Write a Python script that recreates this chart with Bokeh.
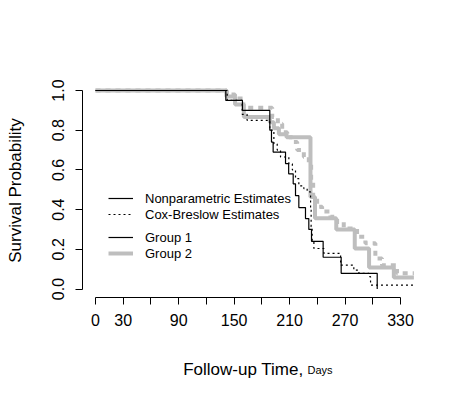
import math
from bokeh.plotting import figure
from bokeh.models import (Range1d, FixedTicker, PrintfTickFormatter, Label,
                          Legend, LegendItem)
from bokeh.embed import file_html
from bokeh.resources import INLINE

# ---- data ----
g1_np_time = [0, 141, 159, 188.6, 190.4, 192.2, 205.6, 209, 213.9, 216.4, 220,
              227.2, 230.8, 233.7, 246.3, 265.8, 304.8]
g1_np_surv = [1.0, 0.95, 0.90, 0.80, 0.74, 0.69, 0.632, 0.58, 0.53, 0.47, 0.41,
              0.355, 0.30, 0.24, 0.16, 0.079, 0.0]

g1_cox_time = [0, 142.5, 158.7, 164, 188.6, 193, 196.6, 200.2, 209.2, 213, 216.4,
               220, 225.4, 229, 232.7, 233.3, 234.4, 236.3, 247.1, 265.2, 279.5,
               285, 295.8, 297.6, 344.5]
g1_cox_surv = [1.0, 0.95, 0.88, 0.85, 0.80, 0.73, 0.70, 0.665, 0.63, 0.60, 0.556,
               0.52, 0.506, 0.489, 0.397, 0.313, 0.246, 0.204, 0.179, 0.12, 0.095,
               0.079, 0.062, 0.02, 0.02]

g2_np_time = [0, 141.7, 151, 160.5, 188.6, 193, 198.4, 206.7, 232.6, 237.5, 260.5,
              280.5, 296, 322.8, 344.5]
g2_np_surv = [1.0, 0.97, 0.93, 0.866, 0.84, 0.81, 0.78, 0.765, 0.464, 0.357, 0.30,
              0.204, 0.108, 0.058, 0.058]

g2_cox_time = [0, 142, 151, 160, 191.2, 197.3, 202, 207.4, 212.8, 218.2, 225.4,
               230.8, 233.3, 235.5, 239.8, 245.2, 254.2, 261.4, 268.6, 283, 292,
               302.8, 310, 326.2, 344.5]
g2_cox_surv = [1.0, 0.98, 0.96, 0.913, 0.866, 0.832, 0.79, 0.765, 0.74, 0.70, 0.665,
               0.63, 0.547, 0.456, 0.414, 0.39, 0.364, 0.338, 0.305, 0.263, 0.23,
               0.154, 0.12, 0.079, 0.079]

x_ticks_labeled = [0, 30, 90, 150, 210, 270, 330]
x_ticks_unlabeled = [60, 120, 180, 240, 300]
y_ticks = [0.0, 0.2, 0.4, 0.6, 0.8, 1.0]

FONT = "Liberation Sans"
GREY = "#bebebe"

W, H = 458, 383
# pixel placement of the plotting scale inside the canvas
X0_PX, X_PER_DAY = 95.0, 305.0 / 330.0
Y0_PX, Y_PER_UNIT = 288.5, 198.5

x_range = Range1d(-X0_PX / X_PER_DAY, (W - X0_PX) / X_PER_DAY)
y_range = Range1d((Y0_PX - H) / Y_PER_UNIT, Y0_PX / Y_PER_UNIT)

p = figure(width=W, height=H, output_backend="svg", toolbar_location=None,
           x_range=x_range, y_range=y_range, min_border=0)
p.outline_line_color = None
p.xgrid.visible = False
p.ygrid.visible = False
p.background_fill_color = "white"
p.border_fill_color = "white"

# curves
r_g2np = p.step(g2_np_time, g2_np_surv, mode="after", line_color=GREY, line_width=4)
r_g2cox = p.step(g2_cox_time, g2_cox_surv, mode="after", line_color=GREY,
                 line_width=4, line_dash="5 5")
r_g1np = p.step(g1_np_time, g1_np_surv, mode="after", line_color="black", line_width=1.2)
r_g1cox = p.step(g1_cox_time, g1_cox_surv, mode="after", line_color="black",
                 line_width=1.2, line_dash="2 3")

# axes (R-style: drawn at the plot-region edges, spanning the tick range)
for ax in (p.xaxis[0], p.yaxis[0]):
    ax.axis_line_color = "black"
    ax.axis_line_width = 1
    ax.major_tick_line_color = "black"
    ax.minor_tick_line_color = "black"
    ax.major_tick_in = 0
    ax.major_tick_out = 7
    ax.minor_tick_in = 0
    ax.minor_tick_out = 7
    ax.major_label_text_font = FONT
    ax.major_label_text_font_size = "16px"
    ax.major_label_text_color = "black"

p.xaxis[0].ticker = FixedTicker(ticks=x_ticks_labeled, minor_ticks=x_ticks_unlabeled)
p.xaxis[0].bounds = (0, 330)
p.xaxis[0].fixed_location = -0.045
p.xaxis[0].major_label_standoff = 9

p.yaxis[0].ticker = FixedTicker(ticks=y_ticks, minor_ticks=[])
p.yaxis[0].formatter = PrintfTickFormatter(format="%.1f")
p.yaxis[0].bounds = (0, 1)
p.yaxis[0].fixed_location = -13.8
p.yaxis[0].major_label_orientation = "vertical"
p.yaxis[0].major_label_standoff = 12

# axis titles
p.add_layout(Label(x=(15 - X0_PX) / X_PER_DAY, y=(Y0_PX - 190) / Y_PER_UNIT,
                   text="Survival Probability", angle=math.pi / 2,
                   text_align="center", text_baseline="middle",
                   text_font=FONT, text_font_size="17px", text_color="black"))
p.add_layout(Label(x=(303 - X0_PX) / X_PER_DAY, y=(Y0_PX - 369.3) / Y_PER_UNIT,
                   text="Follow-up Time,", text_align="right",
                   text_baseline="alphabetic", text_font=FONT,
                   text_font_size="17px", text_color="black"))
p.add_layout(Label(x=(307 - X0_PX) / X_PER_DAY, y=(Y0_PX - 369.3) / Y_PER_UNIT,
                   text="Days", text_align="left",
                   text_baseline="alphabetic", text_font=FONT,
                   text_font_size="11px", text_color="black"))

# legends
def make_legend(items, loc):
    return Legend(items=items, location=loc, orientation="vertical",
                  glyph_width=25, glyph_height=16, label_height=16,
                  label_standoff=12, spacing=0, padding=0, margin=0,
                  label_text_font=FONT, label_text_font_size="13px",
                  label_text_color="black",
                  border_line_alpha=0, background_fill_alpha=0)

leg_a = make_legend([LegendItem(label="Nonparametric Estimates", renderers=[r_g1np]),
                     LegendItem(label="Cox-Breslow Estimates", renderers=[r_g1cox])],
                    (108, H - 222))
leg_b = make_legend([LegendItem(label="Group 1", renderers=[r_g1np]),
                     LegendItem(label="Group 2", renderers=[r_g2np])],
                    (108, H - 261))
p.add_layout(leg_a)
p.add_layout(leg_b)

open("out.html", "w").write(file_html(p, INLINE))
